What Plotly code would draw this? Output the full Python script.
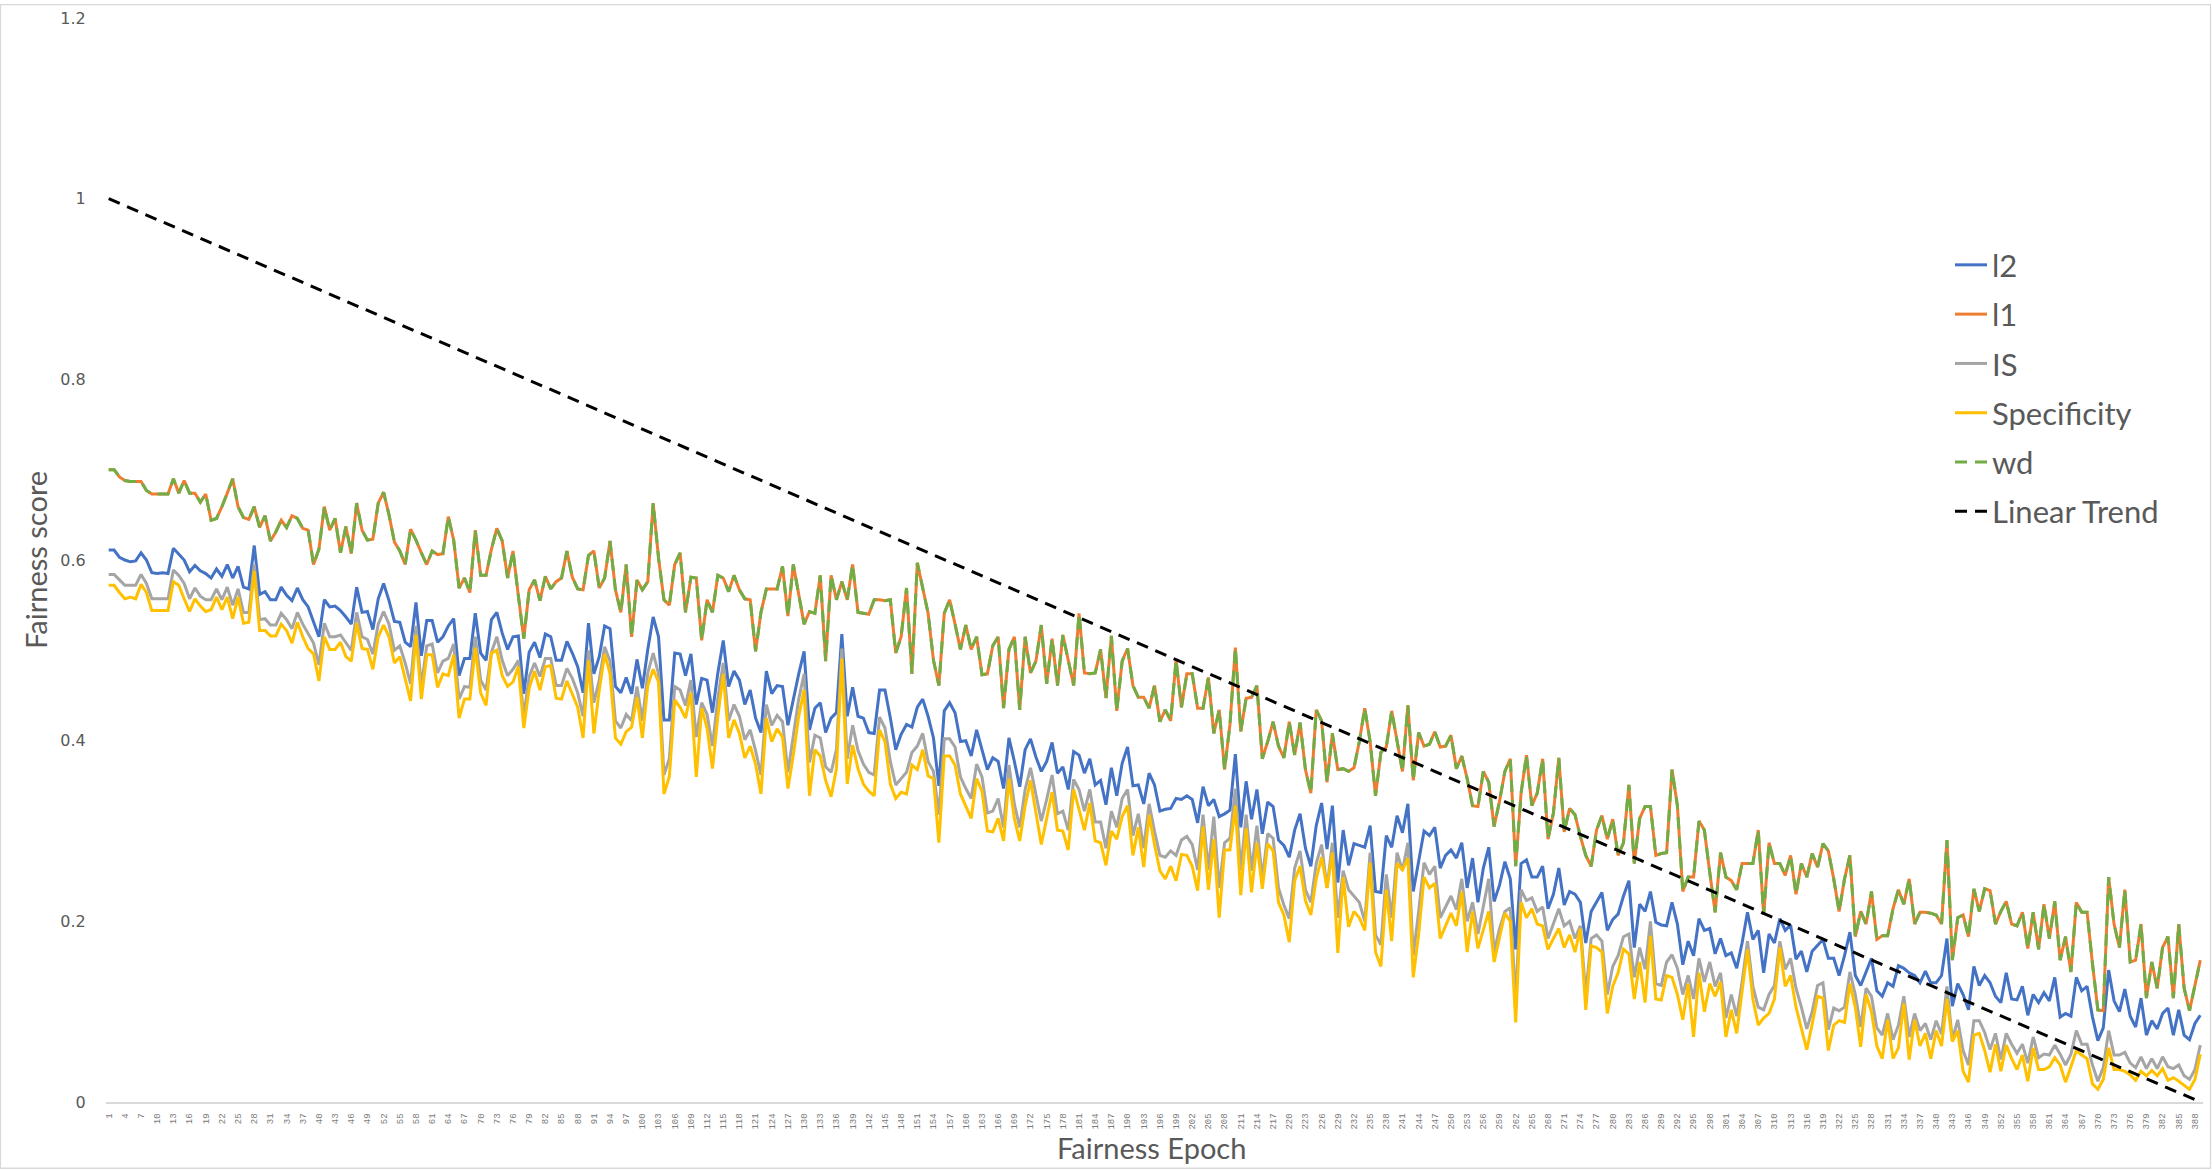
import plotly.graph_objects as go

# ---------------- data ----------------
epochs = list(range(1, 390))

l1 = [
    0.700, 0.700, 0.692, 0.688, 0.687, 0.687, 0.687, 0.677, 0.673, 0.673,
    0.673, 0.673, 0.690, 0.674, 0.688, 0.674, 0.674, 0.664, 0.673, 0.644,
    0.646, 0.659, 0.674, 0.690, 0.659, 0.647, 0.645, 0.659, 0.636, 0.649,
    0.621, 0.631, 0.644, 0.636, 0.649, 0.646, 0.635, 0.633, 0.595, 0.612,
    0.659, 0.633, 0.646, 0.608, 0.637, 0.607, 0.663, 0.633, 0.622, 0.623,
    0.663, 0.675, 0.650, 0.620, 0.610, 0.595, 0.634, 0.622, 0.608, 0.595,
    0.610, 0.606, 0.607, 0.648, 0.622, 0.569,
    0.580, 0.564, 0.633, 0.583, 0.583, 0.612, 0.635, 0.621, 0.580, 0.610,
    0.560, 0.513, 0.567, 0.578, 0.555, 0.582, 0.568, 0.576, 0.580, 0.610,
    0.581, 0.568, 0.567, 0.605, 0.610, 0.569, 0.580, 0.621, 0.567, 0.542,
    0.595, 0.515, 0.578, 0.567, 0.576, 0.663, 0.602, 0.556, 0.550, 0.595,
    0.608, 0.542, 0.581, 0.580, 0.511, 0.556, 0.542, 0.583, 0.580, 0.565,
    0.583, 0.567, 0.557, 0.556, 0.499, 0.542, 0.568, 0.568, 0.568, 0.593,
    0.538, 0.595, 0.562, 0.529, 0.543,
    0.541, 0.583, 0.488, 0.583, 0.556, 0.576, 0.556, 0.595, 0.542, 0.541,
    0.540, 0.556, 0.556, 0.555, 0.556, 0.497, 0.515, 0.569, 0.474, 0.597,
    0.569, 0.541, 0.489, 0.461, 0.541, 0.556, 0.529, 0.501, 0.528, 0.501,
    0.515, 0.473, 0.474, 0.505, 0.515, 0.436, 0.501, 0.515, 0.434, 0.515,
    0.475, 0.488, 0.528, 0.463, 0.513, 0.461, 0.517, 0.489, 0.461, 0.541,
    0.475, 0.474, 0.475, 0.501, 0.447, 0.516, 0.433, 0.488, 0.502, 0.461,
    0.448, 0.448, 0.436, 0.461, 0.421,
    0.434, 0.422, 0.489, 0.437, 0.474, 0.474, 0.436, 0.436, 0.470, 0.408,
    0.434, 0.368, 0.418, 0.503, 0.410, 0.447, 0.448, 0.461, 0.380, 0.399,
    0.421, 0.394, 0.381, 0.421, 0.384, 0.420, 0.368, 0.342, 0.434, 0.422,
    0.354, 0.408, 0.368, 0.369, 0.366, 0.370, 0.399, 0.436, 0.399, 0.339,
    0.387, 0.393, 0.433, 0.399, 0.366, 0.439, 0.356, 0.409, 0.394, 0.396,
    0.410, 0.393, 0.394, 0.406, 0.369, 0.383, 0.358, 0.328, 0.327, 0.366,
    0.354, 0.305, 0.333, 0.366, 0.380,
    0.261, 0.342, 0.384, 0.328, 0.342, 0.380, 0.291, 0.320, 0.381, 0.299,
    0.325, 0.318, 0.294, 0.273, 0.261, 0.301, 0.317, 0.291, 0.313, 0.273,
    0.287, 0.351, 0.264, 0.314, 0.327, 0.327, 0.273, 0.275, 0.276, 0.368,
    0.328, 0.233, 0.249, 0.249, 0.311, 0.301, 0.254, 0.210, 0.276, 0.249,
    0.245, 0.235, 0.264, 0.264, 0.264, 0.301, 0.207, 0.287, 0.264, 0.264,
    0.251, 0.273, 0.230, 0.264, 0.249, 0.275, 0.260, 0.286, 0.278, 0.247,
    0.211, 0.247, 0.273, 0.183, 0.211,
    0.197, 0.233, 0.180, 0.184, 0.184, 0.214, 0.235, 0.219, 0.247, 0.197,
    0.210, 0.210, 0.209, 0.207, 0.197, 0.290, 0.157, 0.204, 0.207, 0.183,
    0.236, 0.211, 0.236, 0.234, 0.197, 0.211, 0.222, 0.197, 0.195, 0.210,
    0.170, 0.210, 0.169, 0.219, 0.181, 0.222, 0.157, 0.183, 0.144, 0.221,
    0.210, 0.210, 0.153, 0.102, 0.101, 0.249, 0.197, 0.171, 0.235, 0.155,
    0.157, 0.197, 0.115, 0.155, 0.126, 0.171, 0.183, 0.115, 0.197, 0.126,
    0.101, 0.131, 0.157,
]

l2 = [
    0.611, 0.611, 0.603, 0.600, 0.598, 0.599, 0.608, 0.600, 0.586, 0.585,
    0.586, 0.585, 0.613, 0.606, 0.600, 0.587, 0.594, 0.588, 0.585, 0.580,
    0.590, 0.582, 0.595, 0.580, 0.593, 0.570, 0.568, 0.616, 0.562, 0.565,
    0.556, 0.556, 0.570, 0.561, 0.555, 0.569, 0.556, 0.548, 0.531, 0.515,
    0.556, 0.548, 0.549, 0.544, 0.537, 0.529, 0.570, 0.542, 0.543, 0.523,
    0.557, 0.574, 0.555, 0.532, 0.531, 0.509, 0.504, 0.553, 0.494, 0.533,
    0.533, 0.509, 0.515, 0.527, 0.535, 0.472,
    0.491, 0.491, 0.541, 0.497, 0.489, 0.534, 0.542, 0.519, 0.501, 0.515,
    0.516, 0.452, 0.498, 0.509, 0.492, 0.518, 0.515, 0.489, 0.489, 0.510,
    0.497, 0.482, 0.453, 0.530, 0.474, 0.493, 0.527, 0.524, 0.460, 0.453,
    0.470, 0.452, 0.490, 0.458, 0.501, 0.537, 0.515, 0.423, 0.423, 0.497,
    0.496, 0.472, 0.496, 0.440, 0.469, 0.467, 0.431, 0.475, 0.511, 0.460,
    0.477, 0.467, 0.440, 0.456, 0.425, 0.409, 0.477, 0.452, 0.461, 0.460,
    0.417, 0.447, 0.474, 0.499, 0.412,
    0.436, 0.442, 0.409, 0.425, 0.431, 0.518, 0.427, 0.459, 0.427, 0.425,
    0.409, 0.408, 0.456, 0.456, 0.425, 0.390, 0.407, 0.418, 0.415, 0.437,
    0.446, 0.427, 0.403, 0.350, 0.433, 0.442, 0.431, 0.399, 0.400, 0.383,
    0.412, 0.389, 0.368, 0.381, 0.377, 0.347, 0.403, 0.377, 0.349, 0.390,
    0.402, 0.382, 0.366, 0.377, 0.398, 0.364, 0.371, 0.346, 0.388, 0.384,
    0.364, 0.380, 0.351, 0.356, 0.329, 0.370, 0.339, 0.375, 0.393, 0.350,
    0.351, 0.330, 0.364, 0.351, 0.322,
    0.324, 0.325, 0.336, 0.335, 0.339, 0.335, 0.309, 0.349, 0.328, 0.335,
    0.316, 0.319, 0.323, 0.385, 0.304, 0.355, 0.313, 0.346, 0.297, 0.332,
    0.327, 0.290, 0.284, 0.271, 0.301, 0.319, 0.281, 0.261, 0.306, 0.331,
    0.280, 0.328, 0.243, 0.301, 0.262, 0.286, 0.284, 0.282, 0.306, 0.233,
    0.232, 0.295, 0.282, 0.317, 0.298, 0.330, 0.233, 0.267, 0.300, 0.295,
    0.304, 0.259, 0.273, 0.279, 0.270, 0.287, 0.237, 0.270, 0.221, 0.259,
    0.282, 0.222, 0.240, 0.266, 0.247,
    0.169, 0.264, 0.268, 0.249, 0.249, 0.261, 0.214, 0.230, 0.259, 0.218,
    0.233, 0.230, 0.221, 0.176, 0.211, 0.221, 0.232, 0.190, 0.202, 0.208,
    0.228, 0.245, 0.171, 0.219, 0.211, 0.233, 0.199, 0.196, 0.195, 0.221,
    0.197, 0.152, 0.178, 0.162, 0.203, 0.190, 0.192, 0.164, 0.181, 0.162,
    0.165, 0.148, 0.176, 0.210, 0.180, 0.190, 0.143, 0.186, 0.176, 0.203,
    0.190, 0.196, 0.158, 0.167, 0.144, 0.167, 0.174, 0.180, 0.159, 0.159,
    0.140, 0.162, 0.188, 0.140, 0.129,
    0.145, 0.159, 0.123, 0.117, 0.132, 0.128, 0.151, 0.148, 0.143, 0.140,
    0.132, 0.145, 0.132, 0.132, 0.140, 0.181, 0.106, 0.131, 0.119, 0.102,
    0.150, 0.129, 0.140, 0.132, 0.117, 0.110, 0.143, 0.114, 0.113, 0.128,
    0.096, 0.119, 0.110, 0.121, 0.112, 0.138, 0.094, 0.098, 0.095, 0.138,
    0.123, 0.128, 0.094, 0.068, 0.082, 0.146, 0.112, 0.100, 0.125, 0.095,
    0.083, 0.115, 0.074, 0.090, 0.081, 0.098, 0.104, 0.074, 0.102, 0.074,
    0.069, 0.087, 0.096,
]

IS = [
    0.584, 0.584, 0.578, 0.572, 0.572, 0.572, 0.584, 0.574, 0.557, 0.557,
    0.557, 0.557, 0.589, 0.583, 0.574, 0.557, 0.569, 0.560, 0.556, 0.556,
    0.568, 0.556, 0.570, 0.550, 0.568, 0.542, 0.542, 0.595, 0.534, 0.535,
    0.528, 0.528, 0.541, 0.534, 0.524, 0.542, 0.529, 0.518, 0.508, 0.484,
    0.530, 0.515, 0.515, 0.517, 0.509, 0.500, 0.542, 0.515, 0.512, 0.496,
    0.529, 0.543, 0.529, 0.500, 0.505, 0.486, 0.463, 0.527, 0.460, 0.505,
    0.507, 0.475, 0.488, 0.491, 0.507, 0.446,
    0.460, 0.459, 0.515, 0.467, 0.456, 0.498, 0.515, 0.489, 0.472, 0.479,
    0.489, 0.427, 0.471, 0.486, 0.471, 0.491, 0.491, 0.461, 0.461, 0.480,
    0.469, 0.453, 0.427, 0.500, 0.442, 0.467, 0.504, 0.488, 0.422, 0.414,
    0.429, 0.422, 0.460, 0.422, 0.475, 0.497, 0.474, 0.362, 0.380, 0.460,
    0.456, 0.439, 0.467, 0.404, 0.442, 0.429, 0.394, 0.447, 0.486, 0.422,
    0.440, 0.427, 0.401, 0.412, 0.389, 0.362, 0.440, 0.417, 0.428, 0.421,
    0.365, 0.406, 0.446, 0.474, 0.376,
    0.406, 0.403, 0.371, 0.365, 0.390, 0.502, 0.380, 0.417, 0.389, 0.374,
    0.365, 0.362, 0.426, 0.414, 0.377, 0.351, 0.358, 0.365, 0.387, 0.394,
    0.408, 0.377, 0.366, 0.318, 0.402, 0.402, 0.393, 0.360, 0.347, 0.336,
    0.374, 0.360, 0.320, 0.322, 0.336, 0.304, 0.373, 0.330, 0.304, 0.346,
    0.370, 0.342, 0.311, 0.335, 0.362, 0.319, 0.322, 0.301, 0.357, 0.346,
    0.322, 0.346, 0.310, 0.310, 0.281, 0.322, 0.304, 0.336, 0.346, 0.295,
    0.319, 0.281, 0.330, 0.300, 0.273,
    0.271, 0.278, 0.273, 0.290, 0.294, 0.285, 0.257, 0.318, 0.257, 0.316,
    0.237, 0.287, 0.292, 0.347, 0.256, 0.318, 0.256, 0.306, 0.247, 0.297,
    0.292, 0.237, 0.218, 0.203, 0.259, 0.278, 0.235, 0.221, 0.264, 0.285,
    0.237, 0.287, 0.204, 0.256, 0.235, 0.228, 0.221, 0.200, 0.276, 0.185,
    0.174, 0.252, 0.204, 0.276, 0.256, 0.287, 0.162, 0.211, 0.265, 0.252,
    0.261, 0.204, 0.216, 0.228, 0.213, 0.247, 0.200, 0.221, 0.186, 0.216,
    0.247, 0.166, 0.192, 0.211, 0.215,
    0.114, 0.235, 0.223, 0.226, 0.211, 0.216, 0.181, 0.197, 0.214, 0.195,
    0.200, 0.181, 0.195, 0.119, 0.181, 0.185, 0.178, 0.119, 0.150, 0.162,
    0.183, 0.186, 0.138, 0.171, 0.147, 0.200, 0.131, 0.129, 0.155, 0.163,
    0.148, 0.119, 0.140, 0.114, 0.159, 0.133, 0.155, 0.128, 0.143, 0.093,
    0.119, 0.095, 0.133, 0.178, 0.128, 0.105, 0.102, 0.119, 0.129, 0.178,
    0.147, 0.159, 0.126, 0.105, 0.081, 0.100, 0.129, 0.132, 0.080, 0.104,
    0.101, 0.105, 0.144, 0.119, 0.083,
    0.126, 0.117, 0.082, 0.074, 0.098, 0.069, 0.085, 0.117, 0.072, 0.098,
    0.079, 0.087, 0.069, 0.090, 0.075, 0.128, 0.069, 0.091, 0.057, 0.041,
    0.090, 0.090, 0.077, 0.058, 0.076, 0.047, 0.076, 0.064, 0.054, 0.064,
    0.043, 0.072, 0.049, 0.053, 0.052, 0.063, 0.053, 0.041, 0.053, 0.079,
    0.064, 0.064, 0.041, 0.023, 0.038, 0.079, 0.052, 0.052, 0.055, 0.043,
    0.038, 0.050, 0.037, 0.048, 0.037, 0.050, 0.039, 0.037, 0.041, 0.029,
    0.025, 0.036, 0.063,
]

specificity = [
    0.572, 0.572, 0.564, 0.557, 0.559, 0.557, 0.573, 0.564, 0.544, 0.544,
    0.544, 0.544, 0.576, 0.572, 0.557, 0.543, 0.557, 0.549, 0.543, 0.545,
    0.559, 0.545, 0.559, 0.535, 0.559, 0.530, 0.531, 0.588, 0.522, 0.522,
    0.516, 0.516, 0.529, 0.522, 0.508, 0.531, 0.515, 0.502, 0.496, 0.466,
    0.515, 0.501, 0.501, 0.509, 0.493, 0.488, 0.530, 0.502, 0.501, 0.479,
    0.515, 0.528, 0.515, 0.486, 0.493, 0.467, 0.444, 0.517, 0.446, 0.495,
    0.495, 0.459, 0.474, 0.472, 0.495, 0.425,
    0.446, 0.446, 0.503, 0.453, 0.439, 0.497, 0.500, 0.472, 0.460, 0.465,
    0.482, 0.414, 0.458, 0.477, 0.456, 0.482, 0.483, 0.447, 0.446, 0.466,
    0.452, 0.437, 0.403, 0.489, 0.408, 0.456, 0.496, 0.474, 0.403, 0.396,
    0.410, 0.415, 0.448, 0.403, 0.461, 0.479, 0.465, 0.341, 0.360, 0.445,
    0.437, 0.425, 0.453, 0.360, 0.436, 0.414, 0.369, 0.427, 0.474, 0.403,
    0.423, 0.408, 0.381, 0.394, 0.374, 0.341, 0.425, 0.399, 0.413, 0.404,
    0.347, 0.384, 0.427, 0.456, 0.339,
    0.390, 0.383, 0.356, 0.338, 0.369, 0.491, 0.352, 0.395, 0.369, 0.352,
    0.344, 0.339, 0.412, 0.399, 0.352, 0.336, 0.343, 0.341, 0.373, 0.368,
    0.390, 0.361, 0.358, 0.287, 0.383, 0.383, 0.373, 0.341, 0.328, 0.314,
    0.358, 0.344, 0.300, 0.299, 0.314, 0.289, 0.358, 0.314, 0.289, 0.328,
    0.356, 0.322, 0.285, 0.314, 0.343, 0.301, 0.300, 0.279, 0.346, 0.324,
    0.301, 0.331, 0.289, 0.287, 0.262, 0.300, 0.291, 0.316, 0.328, 0.273,
    0.304, 0.260, 0.318, 0.285, 0.256,
    0.247, 0.261, 0.245, 0.274, 0.273, 0.261, 0.234, 0.305, 0.235, 0.291,
    0.204, 0.279, 0.279, 0.328, 0.229, 0.303, 0.232, 0.287, 0.236, 0.286,
    0.278, 0.221, 0.207, 0.177, 0.245, 0.261, 0.223, 0.207, 0.247, 0.271,
    0.237, 0.276, 0.165, 0.249, 0.194, 0.211, 0.204, 0.190, 0.265, 0.166,
    0.150, 0.235, 0.178, 0.264, 0.257, 0.270, 0.138, 0.186, 0.249, 0.237,
    0.242, 0.181, 0.195, 0.209, 0.195, 0.233, 0.166, 0.211, 0.170, 0.192,
    0.211, 0.155, 0.181, 0.209, 0.200,
    0.088, 0.221, 0.204, 0.214, 0.197, 0.195, 0.169, 0.181, 0.192, 0.171,
    0.185, 0.166, 0.192, 0.102, 0.173, 0.171, 0.166, 0.098, 0.128, 0.143,
    0.169, 0.164, 0.114, 0.155, 0.110, 0.184, 0.114, 0.113, 0.140, 0.138,
    0.119, 0.091, 0.131, 0.072, 0.143, 0.100, 0.131, 0.117, 0.133, 0.072,
    0.102, 0.076, 0.121, 0.169, 0.114, 0.085, 0.093, 0.098, 0.114, 0.171,
    0.128, 0.140, 0.105, 0.081, 0.058, 0.086, 0.117, 0.115, 0.057, 0.085,
    0.090, 0.088, 0.131, 0.105, 0.061,
    0.119, 0.100, 0.062, 0.048, 0.091, 0.048, 0.060, 0.109, 0.047, 0.091,
    0.062, 0.076, 0.048, 0.079, 0.062, 0.114, 0.067, 0.079, 0.034, 0.022,
    0.074, 0.076, 0.057, 0.033, 0.064, 0.034, 0.063, 0.048, 0.036, 0.052,
    0.023, 0.060, 0.036, 0.036, 0.039, 0.049, 0.041, 0.022, 0.039, 0.057,
    0.052, 0.048, 0.020, 0.014, 0.025, 0.060, 0.036, 0.036, 0.034, 0.030,
    0.024, 0.034, 0.029, 0.035, 0.029, 0.037, 0.024, 0.027, 0.023, 0.019,
    0.014, 0.025, 0.053,
]

# wd coincides with l1 in the picture (green dashes drawn over the orange line)
wd = list(l1)

trend_epochs = [1, 389]
trend_values = [1.0, 0.0]

tick_epochs = list(range(1, 389, 3))
tick_labels = [str(t) for t in tick_epochs]

for name, s in [("l1", l1), ("l2", l2), ("IS", IS), ("spec", specificity)]:
    assert len(s) == len(epochs), (name, len(s))

# ---------------- figure ----------------
W, H = 2212, 1170
ML, MR, MT, MB = 106, 9, 14, 68
PW, PH = W - ML - MR, H - MT - MB
GREY_TXT = "#595959"

fig = go.Figure()

series = [
    ("l2", l2, "#4472C4", "solid"),
    ("l1", l1, "#ED7D31", "solid"),
    ("IS", IS, "#A5A5A5", "solid"),
    ("Specificity", specificity, "#FFC000", "solid"),
    ("wd", wd, "#70AD47", "12px,8px"),
]
for name, vals, color, dash in series:
    fig.add_trace(go.Scatter(
        x=epochs, y=vals, mode="lines", name=name, legendgroup=name,
        line=dict(color=color, width=3, dash=dash),
    ))

fig.add_trace(go.Scatter(
    x=trend_epochs, y=trend_values, mode="lines", name="Linear Trend",
    legendgroup="Linear Trend",
    line=dict(color="#000000", width=3, dash="12px,8px"),
))

def px_x(p):
    return (p - ML) / PW

def px_y(p):
    return (H - MB - p) / PH

fig.update_layout(
    width=W, height=H,
    margin=dict(l=ML, r=MR, t=MT, b=MB, pad=0),
    paper_bgcolor="white", plot_bgcolor="white",
    showlegend=True,
    legend=dict(
        x=px_x(1950), y=px_y(235), xanchor="left", yanchor="top",
        font=dict(family="Lato", size=31, color=GREY_TXT),
        traceorder="grouped", tracegroupgap=6,
        bgcolor="rgba(0,0,0,0)", itemwidth=32,
    ),
    xaxis=dict(
        range=[0.5, 389.5],
        tickmode="array", tickvals=tick_epochs, ticktext=tick_labels,
        tickangle=-90,
        tickfont=dict(family="Liberation Mono", size=9, color="#7a7a7a"),
        showgrid=False, zeroline=False,
        showline=True, linecolor="#D9D9D9", linewidth=1.5,
        ticks="outside", ticklen=6, tickcolor="rgba(0,0,0,0)",
    ),
    yaxis=dict(
        range=[0, 1.2],
        tickmode="array", tickvals=[0, 0.2, 0.4, 0.6, 0.8, 1.0, 1.2],
        ticktext=["0", "0.2", "0.4", "0.6", "0.8", "1", "1.2"],
        tickfont=dict(family="DejaVu Sans", size=16, color=GREY_TXT),
        showgrid=False, zeroline=False, showline=False,
        ticks="outside", ticklen=16, tickcolor="rgba(0,0,0,0)",
    ),
    annotations=[
        dict(text="Fairness Epoch", xref="paper", yref="paper",
             x=px_x(1151), y=px_y(1148), xanchor="center", yanchor="middle",
             showarrow=False, font=dict(family="Lato", size=29, color=GREY_TXT)),
        dict(text="Fairness score", xref="paper", yref="paper",
             x=px_x(35), y=px_y(558), xanchor="center", yanchor="middle",
             textangle=-90, showarrow=False,
             font=dict(family="Lato", size=29, color=GREY_TXT)),
    ],
    shapes=[
        dict(type="rect", xref="paper", yref="paper",
             x0=px_x(0.5), x1=px_x(W - 1.5), y0=px_y(H - 1.5), y1=px_y(0.5),
             line=dict(color="#D9D9D9", width=1.3), fillcolor="rgba(0,0,0,0)",
             layer="below"),
    ],
)

fig.write_html("out.html",
               config={"displayModeBar": False},
               post_script="document.body.style.margin='0';document.body.style.overflow='hidden';")
